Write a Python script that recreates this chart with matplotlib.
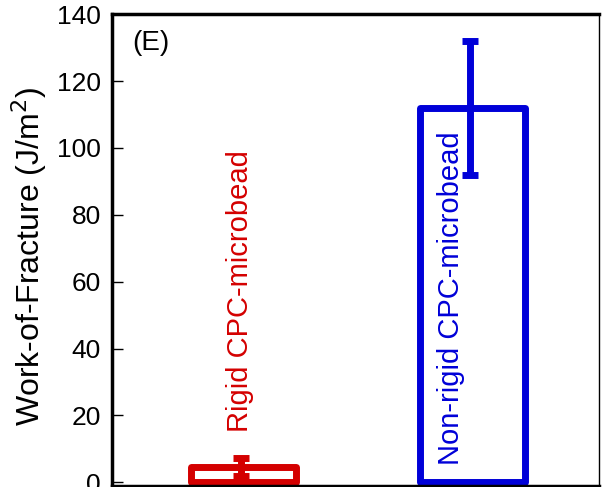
import matplotlib
matplotlib.use("Agg")
import matplotlib.pyplot as plt

plt.rcParams['font.family'] = ['Liberation Sans', 'DejaVu Sans']

categories = ["Rigid CPC-microbead", "Non-rigid CPC-microbead"]
values = [4.6, 112.0]
errors = [2.7, 20.0]
colors = ["#d40000", "#0000d8"]
yticks = [0, 20, 40, 60, 80, 100, 120, 140]

fig = plt.figure(figsize=(6.02, 4.87), dpi=100)
ax = fig.add_axes([0.186, 0.003, 0.809, 0.9676])

xs = [1, 2]
for x, v, e, c in zip(xs, values, errors, colors):
    ax.bar(x, v, width=0.46, facecolor="white", edgecolor=c, linewidth=5,
           joinstyle="round", zorder=2)
    ax.errorbar(x - 0.01, v, yerr=e, fmt="none", ecolor=c, elinewidth=5,
                capsize=5.5, capthick=5, zorder=3)

ax.text(0.985, 15, categories[0], rotation=90, color=colors[0],
        fontsize=21, ha="center", va="bottom")
ax.text(1.908, 5, categories[1], rotation=90, color=colors[1],
        fontsize=21, ha="center", va="bottom")

ax.text(0.511, 131.4, "(E)", fontsize=20, ha="left", va="center")

ax.set_xlim(0.424, 2.553)
ax.set_ylim(-1, 140)
ax.set_xticks([])
ax.set_yticks(yticks)
ax.tick_params(axis="y", direction="in", length=8, width=1, labelsize=19, pad=8)
ax.set_ylabel("Work-of-Fracture (J/m$^2$)", fontsize=23)
ax.yaxis.set_label_coords(-0.13, 0.486)

for s in ["left", "bottom", "top"]:
    ax.spines[s].set_linewidth(2.5)
ax.spines["right"].set_linewidth(1)

fig.savefig("out.png", dpi=100)
